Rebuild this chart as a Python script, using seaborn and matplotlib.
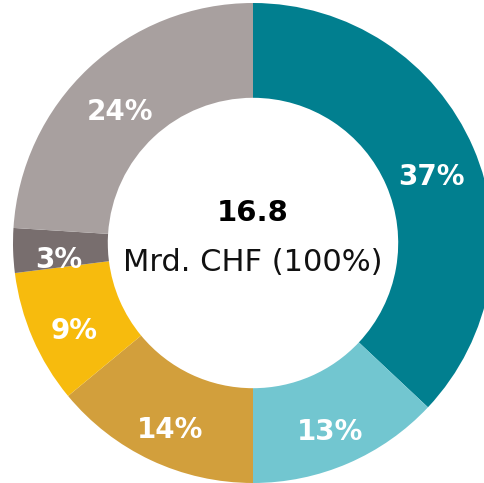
import seaborn as sns
import matplotlib.pyplot as plt

# shares of the 16.8 Mrd. CHF total, clockwise from the top
shares = [37, 13, 14, 9, 3, 24]
labels = ["37%", "13%", "14%", "9%", "3%", "24%"]
colors = ["#017F8F", "#72C6D0", "#D29F3C", "#F7BB0D", "#786E6E", "#A8A09F"]
total = "16.8"
unit = "Mrd. CHF (100%)"

sns.set_theme(style="white")
plt.rcParams['font.family'] = ['DejaVu Sans']

fig = plt.figure(figsize=(4.85, 4.83), dpi=100)
# axes box = the donut's bounding square, slightly outside the figure on the right
ax = fig.add_axes([13 / 485, 0 / 483, 480 / 485, 480 / 483])

wedges, texts = ax.pie(shares, colors=colors, startangle=90, counterclock=False,
                       radius=1.0, wedgeprops=dict(width=0.395, linewidth=0),
                       labels=labels, labeldistance=0.81,
                       textprops=dict(color="white", fontsize=20, fontweight="bold",
                                      ha="center", va="center"))
for t in texts:
    x, y = t.get_position()
    t.set_position((x, y - 0.045))

ax.text(0, 0.125, total, ha="center", va="center", fontsize=21, fontweight="bold", color="black")
ax.text(0, -0.08, unit, ha="center", va="center", fontsize=22, color="#111111")

ax.set_xlim(-1, 1)
ax.set_ylim(-1, 1)
ax.set_aspect("equal")
ax.axis("off")

fig.savefig("out.png", dpi=100)
